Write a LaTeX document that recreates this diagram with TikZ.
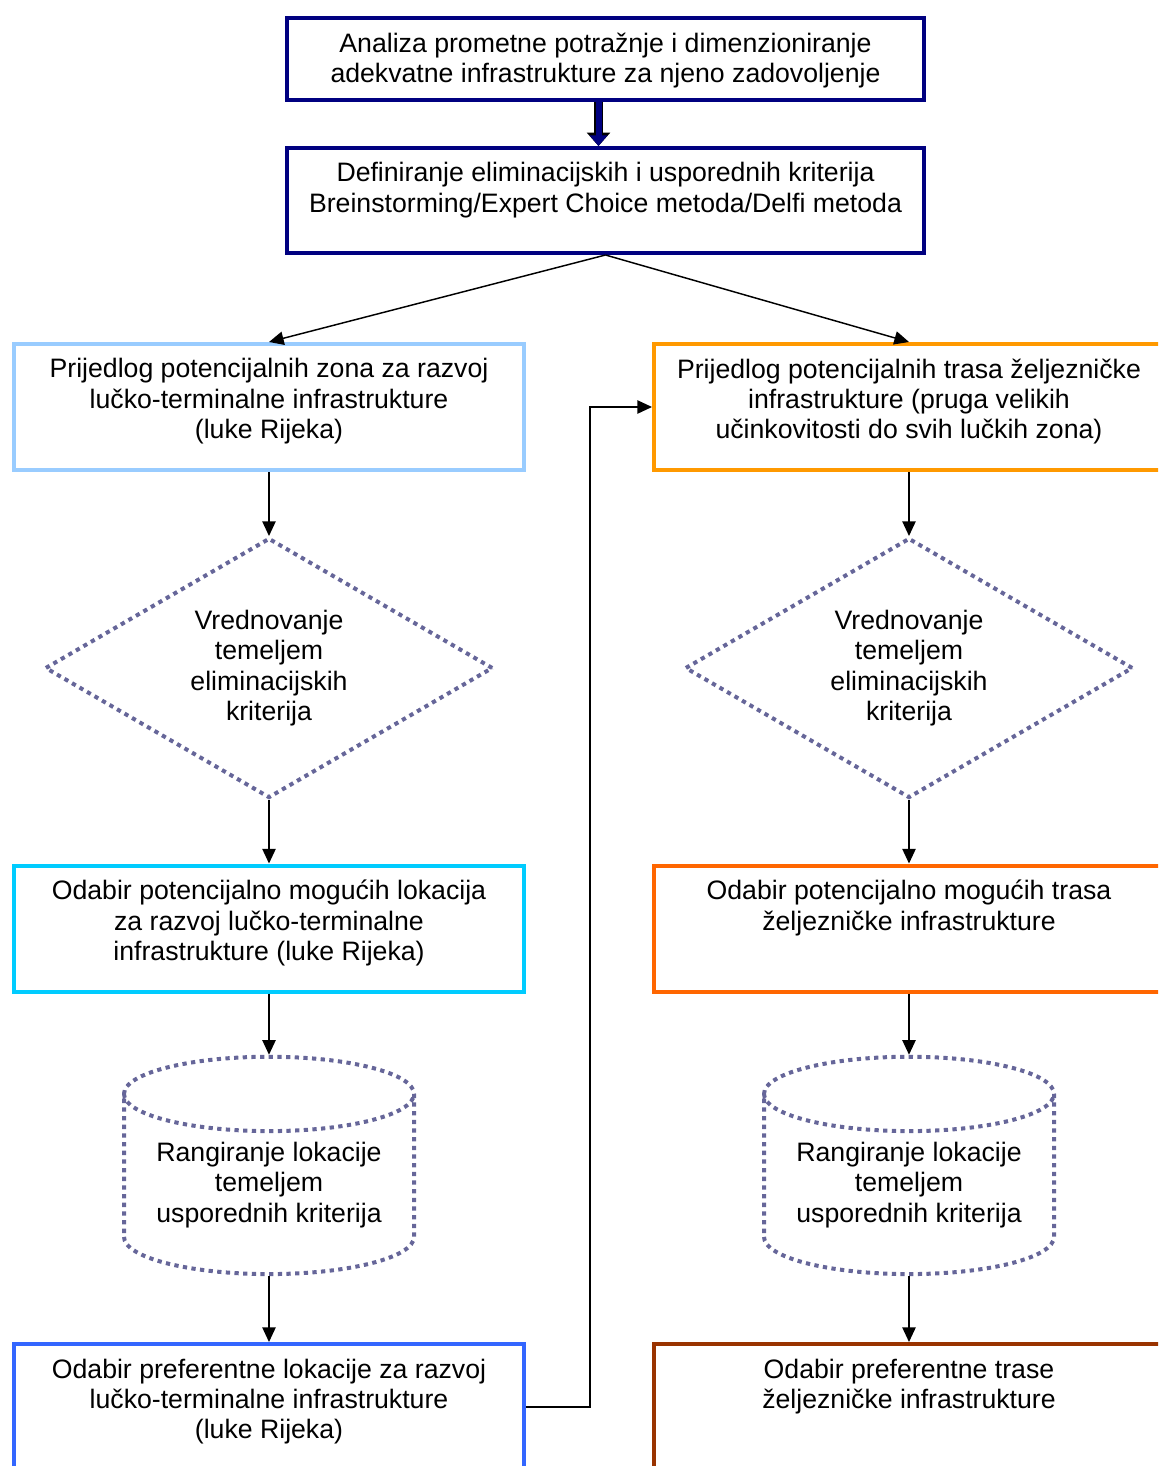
\documentclass[tikz,border=0pt]{standalone}
\usepackage{fontspec}
\setmainfont{Liberation Sans}
\usetikzlibrary{shapes.geometric,arrows.meta}

\definecolor{navyline}{HTML}{000080}
\definecolor{zoneblue}{HTML}{99CCFF}
\definecolor{railorange}{HTML}{FF9900}
\definecolor{zonecyan}{HTML}{00CCFF}
\definecolor{raildark}{HTML}{FF6600}
\definecolor{prefblue}{HTML}{3366FF}
\definecolor{railbrown}{HTML}{993300}
\definecolor{dotline}{HTML}{666699}

% text of a box, set from the top
\newcommand{\boxtext}[3]{\parbox[c][#1][t]{#2}{\centering\vspace*{11pt}#3}}

\begin{document}
\begin{tikzpicture}[x=0.75pt, y=-0.75pt, font=\fontsize{20}{22.8}\selectfont]
    % Node styles
    \tikzset{
        box/.style={draw=#1, line width=3pt, inner sep=0pt},
        check/.style={diamond, draw=dotline, line width=3pt, dash pattern=on 3.2pt off 3.3pt,
            aspect=1.72, inner sep=0pt, minimum width=336pt, minimum height=195pt, align=center},
        rank/.style={cylinder, shape border rotate=90, draw=dotline, line width=3pt,
            dash pattern=on 3.2pt off 3.3pt, aspect=0.33, inner sep=0pt,
            minimum width=217.5pt, minimum height=163pt, align=center},
        arr/.style={-{Triangle[length=11pt, width=10pt]}, line width=1.1pt},
        bigarr/.style={navyline, line width=4.5pt, -{Triangle[length=8pt, width=13pt]},
            preaction={draw=black, line width=7pt, -{Triangle[length=10pt, width=17pt]}}}
    }

    \useasboundingbox (0,0) rectangle (1158,1466);
    \clip (0,0) rectangle (1158,1466);

    % Top: demand analysis and criteria
    \node[box=navyline] (demand) at (605.5,59)
        {\boxtext{61.5pt}{477.75pt}{Analiza prometne potražnje i dimenzioniranje\\adekvatne infrastrukture za njeno zadovoljenje}};
    \node[box=navyline] (criteria) at (605.5,200.5)
        {\boxtext{78.75pt}{477.75pt}{Definiranje eliminacijskih i usporednih kriterija\\Breinstorming/Expert Choice metoda/Delfi metoda}};

    % Left column - port zones
    \node[box=zoneblue] (zones) at (269,407)
        {\boxtext{94.5pt}{382.5pt}{Prijedlog potencijalnih zona za razvoj\\lučko-terminalne infrastrukture\\(luke Rijeka)}};
    \node[check] (checkL) at (269,668) {Vrednovanje\\temeljem\\eliminacijskih\\kriterija};
    \node[box=zonecyan] (sites) at (269,928.5)
        {\boxtext{94.5pt}{382.5pt}{Odabir potencijalno mogućih lokacija\\za razvoj lučko-terminalne\\infrastrukture (luke Rijeka)}};
    \node[rank] (rankL) at (269,1185) {Rangiranje lokacije\\temeljem\\usporednih kriterija};
    \node[box=prefblue] (prefsite) at (269,1407)
        {\boxtext{94.5pt}{382.5pt}{Odabir preferentne lokacije za razvoj\\lučko-terminalne infrastrukture\\(luke Rijeka)}};

    % Right column - railway routes
    \node[box=railorange] (routes) at (909,407)
        {\boxtext{94.5pt}{382.5pt}{Prijedlog potencijalnih trasa željezničke\\infrastrukture (pruga velikih\\učinkovitosti do svih lučkih zona)}};
    \node[check] (checkR) at (909,668) {Vrednovanje\\temeljem\\eliminacijskih\\kriterija};
    \node[box=raildark] (tracks) at (909,928.5)
        {\boxtext{94.5pt}{382.5pt}{Odabir potencijalno mogućih trasa\\željezničke infrastrukture}};
    \node[rank] (rankR) at (909,1185) {Rangiranje lokacije\\temeljem\\usporednih kriterija};
    \node[box=railbrown] (preftrack) at (909,1407)
        {\boxtext{94.5pt}{382.5pt}{Odabir preferentne trase\\željezničke infrastrukture}};

    % Connectors
    \draw[bigarr] ([xshift=-5.25pt]demand.south) -- ([xshift=-5.25pt]criteria.north);
    \draw[arr] (criteria.south) -- (zones.north);
    \draw[arr] (criteria.south) -- (routes.north);

    \draw[arr] (zones) -- (checkL);
    \draw[arr] (checkL) -- (sites);
    \draw[arr] (sites) -- (rankL);
    \draw[arr] (rankL) -- (prefsite);

    \draw[arr] (routes) -- (checkR);
    \draw[arr] (checkR) -- (tracks);
    \draw[arr] (tracks) -- (rankR);
    \draw[arr] (rankR) -- (preftrack);

    \draw[arr] (prefsite.east) -- ++(64,0) |- (routes.west);
\end{tikzpicture}
\end{document}
